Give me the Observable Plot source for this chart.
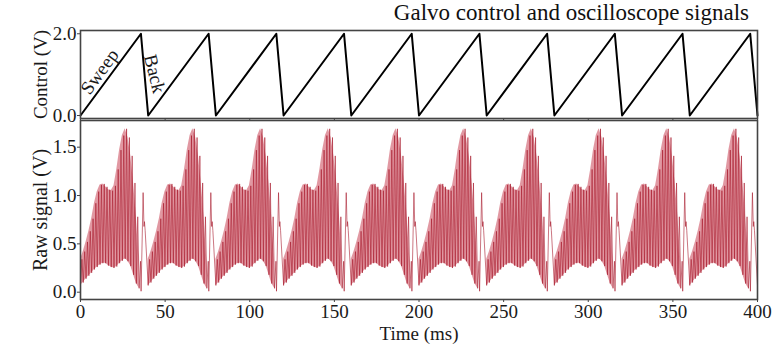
<!DOCTYPE html>
<html><head><meta charset="utf-8">
<script src="https://cdn.jsdelivr.net/npm/d3@7"></script>
<script src="https://cdn.jsdelivr.net/npm/@observablehq/plot@0.6"></script>
<style>
body{margin:0;background:#fff;font-family:"Liberation Serif",serif;}
#title{height:30px;width:776px;position:relative;}
#title span{position:absolute;right:27px;top:0px;font-size:23px;color:#111;white-space:nowrap;}
svg{display:block;}
</style></head><body>
<div id="title"><span>Galvo control and oscilloscope signals</span></div>
<div id="top"></div><div id="bottom"></div>
<script>
// ---- data ----
const periodStarts = [0, 40, 80, 120, 160, 200, 240, 280, 320, 360];
const periodMs = 40;
const sweepEndMs = 35.7;          // control peaks here, then flies back
const controlLowV = 0.0;
const controlHighV = 2.0;
const cycleMs = 1.65;             // oscillation cycle of the raw signal
const troughV = [0.07,0.10,0.14,0.17,0.20,0.235,0.26,0.285,0.30,0.30,0.275,0.26,0.25,0.265,0.30,0.325,0.345,0.32,0.27,0.18,0.09,0.04];
const peakV   = [0.34,0.42,0.52,0.63,0.76,0.92,1.04,1.11,1.12,1.09,1.06,1.05,1.10,1.27,1.47,1.62,1.69,1.60,1.41,1.13,0.78,0.32];
const flybackT = [35.8, 37.0, 37.5, 37.8, 38.2, 40.0];
const flybackV = [0.01, 1.03, 0.68, 0.73, 0.64, 0.07];
const xTicks = [0, 50, 100, 150, 200, 250, 300, 350, 400];
const controlTicks = [0, 2];
const rawTicks = [0, 0.5, 1.0, 1.5];
const annotations = [
  {label: "Sweep", t: 16.4, v: 0.92},
  {label: "Back", t: 37.8, v: 1.02}
];

// ---- tables built from the arrays ----
const controlRows = [];
periodStarts.forEach(s => {
  controlRows.push({t: s, v: controlLowV});
  controlRows.push({t: s + sweepEndMs, v: controlHighV});
});
controlRows.push({t: periodStarts[periodStarts.length - 1] + periodMs, v: controlLowV});

const rawRows = [];
const envRows = [];
periodStarts.forEach((s, p) => {
  troughV.forEach((lo, i) => {
    rawRows.push({t: s + i * cycleMs, v: lo});
    rawRows.push({t: s + i * cycleMs + cycleMs / 2, v: peakV[i]});
    envRows.push({p, t: s + i * cycleMs, lo, hi: peakV[i]});
  });
  flybackT.forEach((ft, j) => {
    if (j === flybackT.length - 1 && p < periodStarts.length - 1) return;
    rawRows.push({t: s + ft, v: flybackV[j]});
  });
});

const font = "Liberation Serif";
const ink = "#1a1a1a";
const frameColor = "#444";

const topPlot = Plot.plot({
  width: 776, height: 90,
  marginLeft: 80, marginRight: 19, marginTop: 0, marginBottom: 2,
  x: {domain: [0, 400]},
  y: {domain: [-0.073, 2.08]},
  style: {fontFamily: font, fontSize: "19px", color: ink, background: "transparent", overflow: "visible"},
  marks: [
    Plot.line(controlRows, {x: "t", y: "v", stroke: "#000", strokeWidth: 2}),
    Plot.text(annotations.slice(0, 1), {x: "t", y: "v", text: "label", rotate: -54, dx: -8.5, dy: -6.2, fontSize: 19, fill: ink}),
    Plot.text(annotations.slice(1), {x: "t", y: "v", text: "label", rotate: 76, dx: 10, fontSize: 19, fill: ink}),
    Plot.frame({stroke: frameColor, strokeWidth: 1.6}),
    Plot.axisY({ticks: controlTicks, tickFormat: d => d.toFixed(1), tickSize: 3, tickPadding: 1, label: null, stroke: frameColor, fontSize: 19}),
    Plot.axisX({ticks: xTicks, tickSize: 3, tickFormat: () => "", label: null, stroke: frameColor}),
    Plot.text(["Control (V)"], {frameAnchor: "left", textAnchor: "middle", lineAnchor: "middle", rotate: -90, dx: -40, fontSize: 19, fill: ink})
  ]
});
document.getElementById("top").appendChild(topPlot);

const bottomPlot = Plot.plot({
  width: 776, height: 227,
  marginLeft: 80, marginRight: 19, marginTop: 0, marginBottom: 48,
  x: {domain: [0, 400]},
  y: {domain: [-0.0755, 1.776]},
  style: {fontFamily: font, fontSize: "19px", color: ink, background: "transparent", overflow: "visible"},
  marks: [
    Plot.areaY(envRows, {x: "t", y1: "lo", y2: "hi", z: "p", fill: "#c94456", fillOpacity: 0.55, curve: "linear"}),
    Plot.line(rawRows, {x: "t", y: "v", stroke: "#a81a2b", strokeWidth: 0.8, strokeOpacity: 0.75}),
    Plot.frame({stroke: frameColor, strokeWidth: 1.6}),
    Plot.axisY({ticks: rawTicks, tickFormat: d => d.toFixed(1), tickSize: 3, tickPadding: 1, label: null, stroke: frameColor, fontSize: 19}),
    Plot.axisX({ticks: xTicks, tickSize: 3, tickPadding: 2, label: null, stroke: frameColor, fontSize: 19}),
    Plot.text(["Raw signal (V)"], {frameAnchor: "left", textAnchor: "middle", lineAnchor: "middle", rotate: -90, dx: -40, fontSize: 20, fill: ink}),
    Plot.text(["Time (ms)"], {frameAnchor: "bottom", textAnchor: "middle", lineAnchor: "middle", dy: 34, fontSize: 19, fill: ink})
  ]
});
document.getElementById("bottom").appendChild(bottomPlot);
</script>
</body></html>
